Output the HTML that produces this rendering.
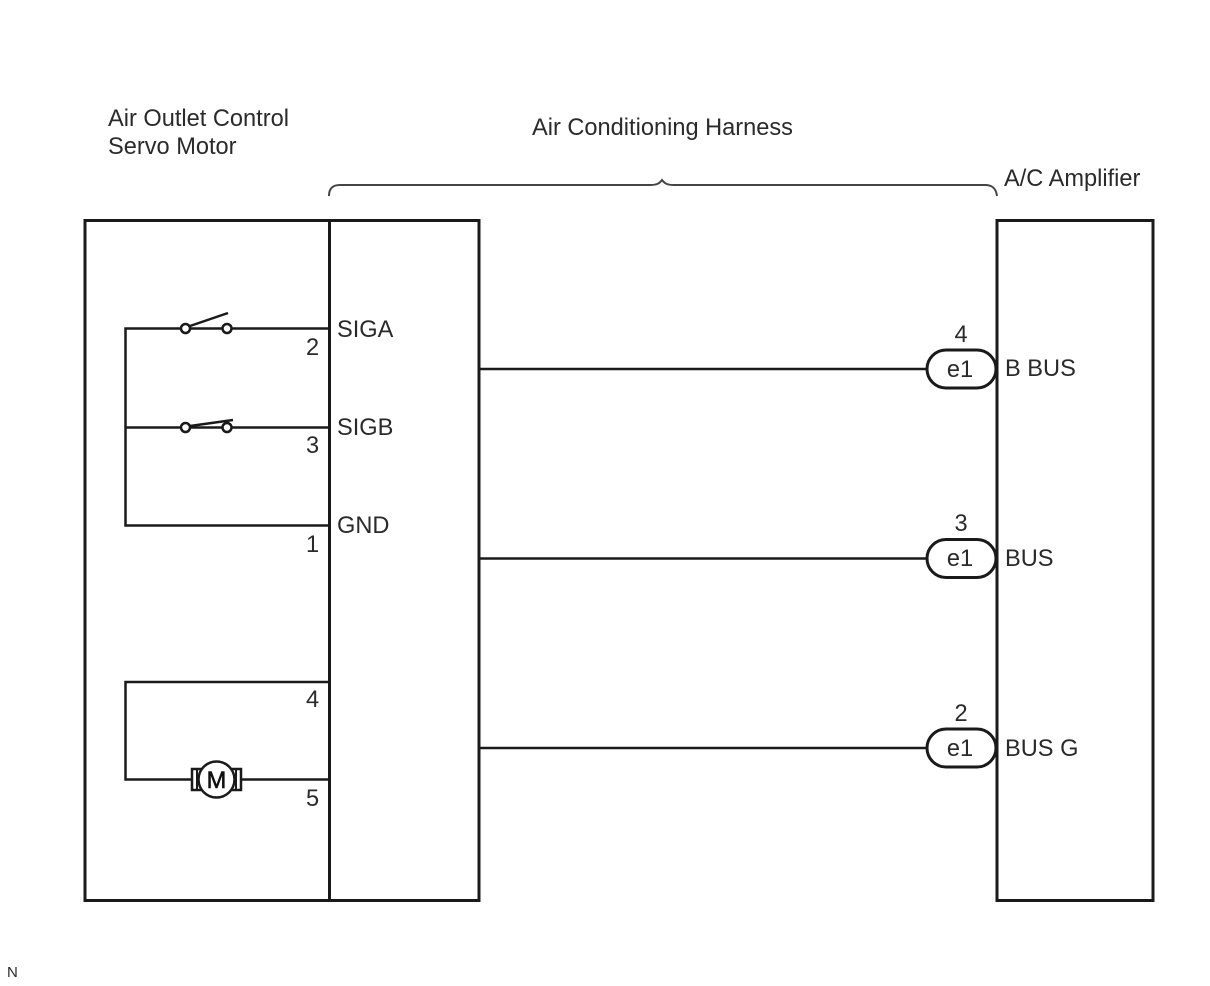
<!DOCTYPE html>
<html>
<head>
<meta charset="utf-8">
<style>
html,body{margin:0;padding:0;background:#fff;}
svg{display:block;filter:blur(0.35px);}
text{font-family:"Liberation Sans",Arial,sans-serif;font-size:23.6px;fill:#2a2a2a;}
</style>
</head>
<body>
<svg width="1210" height="986" viewBox="0 0 1210 986" xmlns="http://www.w3.org/2000/svg">
<g fill="none" stroke="#1a1a1a" stroke-width="3">
<rect x="85" y="220.500" width="394" height="680"/>
<line x1="329.500" y1="220" x2="329.500" y2="901"/>
<rect x="997" y="220.500" width="156" height="680"/>
<path d="M329 328.500H125.500V525.500H329" stroke-width="2.500"/>
<path d="M125.500 427.500H329" stroke-width="2.500"/>
<path d="M329 682H125.500V779.500H329" stroke-width="2.500"/>
<path d="M190 326L228 313" stroke-width="2.500"/>
<path d="M190 426L233 420" stroke-width="2.500"/>
<path d="M479 369H927M479 558.500H927M479 748H927" stroke-width="2.500"/>
<path d="M329 196C329 188 333 185 340 185H650C656 185 659 184 662 180C665 184 668 185 674 185H985C992 185 996 188 997 196" stroke="#444" stroke-width="2"/>
</g>
<g fill="#fff" stroke="#1a1a1a" stroke-width="2.500">
<circle cx="185.500" cy="328.500" r="4.500"/>
<circle cx="227" cy="328.500" r="4.500"/>
<circle cx="185.500" cy="427.500" r="4.500"/>
<circle cx="227" cy="427.500" r="4.500"/>
<rect x="192" y="769" width="49" height="21" stroke-width="2.500"/>
<line x1="197" y1="769" x2="197" y2="790" stroke-width="2"/>
<line x1="236" y1="769" x2="236" y2="790" stroke-width="2"/>
<circle cx="216.500" cy="779.500" r="18"/>
<rect x="927" y="350" width="69" height="38" rx="19" ry="19" stroke-width="3"/>
<rect x="927" y="539.500" width="69" height="38" rx="19" ry="19" stroke-width="3"/>
<rect x="927" y="729" width="69" height="38" rx="19" ry="19" stroke-width="3"/>
</g>
<text x="108" y="126">Air Outlet Control</text>
<text x="108" y="154">Servo Motor</text>
<text x="532" y="135">Air Conditioning Harness</text>
<text x="1004" y="186">A/C Amplifier</text>
<text x="337" y="337">SIGA</text>
<text x="337" y="435">SIGB</text>
<text x="337" y="533">GND</text>
<text x="306" y="355">2</text>
<text x="306" y="453">3</text>
<text x="306" y="552">1</text>
<text x="306" y="707">4</text>
<text x="306" y="806">5</text>
<text x="216.500" y="788" text-anchor="middle" style="fill:#111;stroke:#111;stroke-width:0.6px">M</text>
<text x="954.500" y="342">4</text>
<text x="954.500" y="531">3</text>
<text x="954.500" y="721">2</text>
<text x="960" y="377" text-anchor="middle">e1</text>
<text x="960" y="566" text-anchor="middle">e1</text>
<text x="960" y="756" text-anchor="middle">e1</text>
<text x="1005" y="376">B BUS</text>
<text x="1005" y="566">BUS</text>
<text x="1005" y="756">BUS G</text>
<text x="7" y="977" style="font-size:15px">N</text>
</svg>
</body>
</html>
